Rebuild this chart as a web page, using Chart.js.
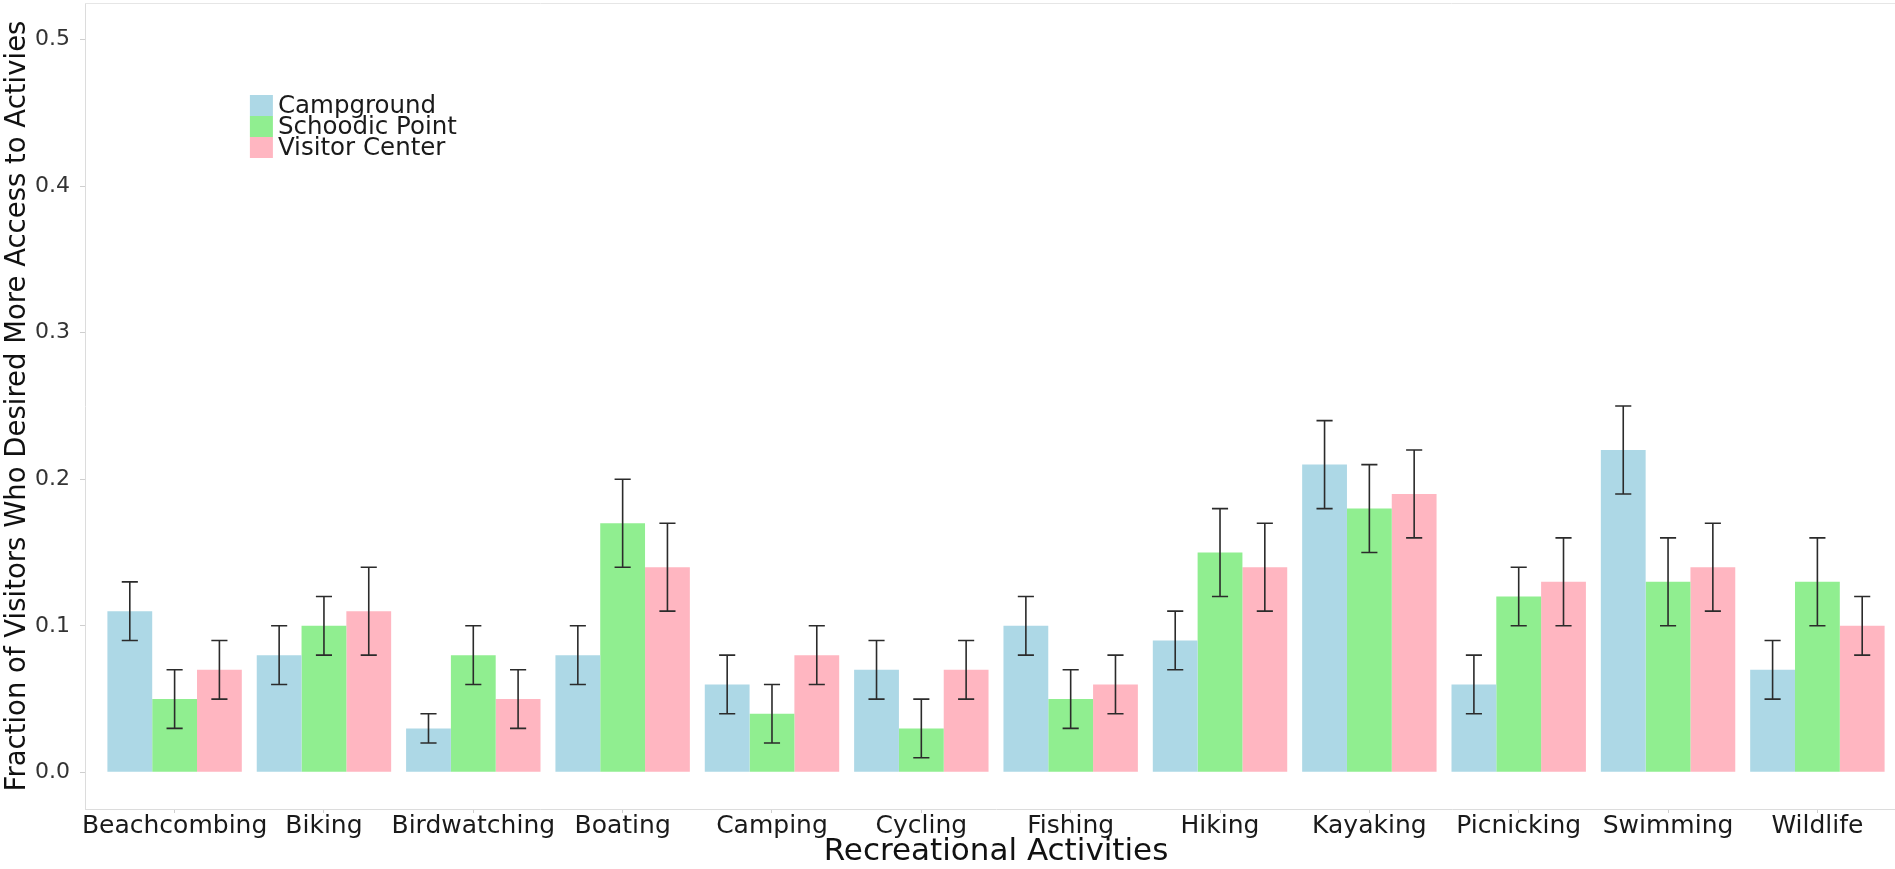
<!DOCTYPE html>
<html>
<head>
<meta charset="utf-8">
<script src="https://cdn.jsdelivr.net/npm/chart.js@4.4.1/dist/chart.umd.min.js"></script>
<style>
html,body{margin:0;padding:0;background:#ffffff;overflow:hidden;}
#wrap{position:relative;width:1907px;height:869px;}
</style>
</head>
<body>
<div id="wrap"><canvas id="c"></canvas></div>
<script>
const categories = ['Beachcombing','Biking','Birdwatching','Boating','Camping','Cycling','Fishing','Hiking','Kayaking','Picnicking','Swimming','Wildlife'];
const seriesNames = ['Campground','Schoodic Point','Visitor Center'];
const seriesColors = ['#ADD8E6','#90EE90','#FFB6C1'];

const campground     = [0.11,0.08,0.03,0.08,0.06,0.07,0.10,0.09,0.21,0.06,0.22,0.07];
const campgroundLow  = [0.09,0.06,0.02,0.06,0.04,0.05,0.08,0.07,0.18,0.04,0.19,0.05];
const campgroundHigh = [0.13,0.10,0.04,0.10,0.08,0.09,0.12,0.11,0.24,0.08,0.25,0.09];

const schoodic     = [0.05,0.10,0.08,0.17,0.04,0.03,0.05,0.15,0.18,0.12,0.13,0.13];
const schoodicLow  = [0.03,0.08,0.06,0.14,0.02,0.01,0.03,0.12,0.15,0.10,0.10,0.10];
const schoodicHigh = [0.07,0.12,0.10,0.20,0.06,0.05,0.07,0.18,0.21,0.14,0.16,0.16];

const visitor     = [0.07,0.11,0.05,0.14,0.08,0.07,0.06,0.14,0.19,0.13,0.14,0.10];
const visitorLow  = [0.05,0.08,0.03,0.11,0.06,0.05,0.04,0.11,0.16,0.10,0.11,0.08];
const visitorHigh = [0.09,0.14,0.07,0.17,0.10,0.09,0.08,0.17,0.22,0.16,0.17,0.12];

const yTicks = [0.0,0.1,0.2,0.3,0.4,0.5];

const xTitle = 'Recreational Activities';
const yTitle = 'Fraction of Visitors Who Desired More Access to Activies';

Chart.defaults.font.family = '"DejaVu Sans", "Liberation Sans", Arial, sans-serif';

function makeDataset(i, values, lows, highs) {
  return {
    label: seriesNames[i],
    data: values.map((v, k) => ({ x: k + 1, y: v })),
    errLow: lows,
    errHigh: highs,
    backgroundColor: seriesColors[i],
    borderWidth: 0,
    categoryPercentage: 0.9,
    barPercentage: 1.0
  };
}

const errorBars = {
  id: 'errorBars',
  afterDatasetsDraw(chart) {
    const ctx = chart.ctx;
    const yS = chart.scales.y;
    ctx.save();
    ctx.strokeStyle = '#2b2b2b';
    ctx.lineWidth = 1.6;
    chart.data.datasets.forEach((ds, i) => {
      const meta = chart.getDatasetMeta(i);
      meta.data.forEach((bar, j) => {
        const x = bar.x;
        const yl = yS.getPixelForValue(ds.errLow[j]);
        const yh = yS.getPixelForValue(ds.errHigh[j]);
        const hw = bar.width * 0.18;
        ctx.beginPath();
        ctx.moveTo(x, yl); ctx.lineTo(x, yh);
        ctx.moveTo(x - hw, yl); ctx.lineTo(x + hw, yl);
        ctx.moveTo(x - hw, yh); ctx.lineTo(x + hw, yh);
        ctx.stroke();
      });
    });
    ctx.restore();
  }
};

const insideLegend = {
  id: 'insideLegend',
  afterDraw(chart) {
    const ctx = chart.ctx;
    const a = chart.chartArea;
    const x0 = a.left + (a.right - a.left) * 0.0905;
    const y0 = a.top + 92;
    const boxW = 23, rowH = 21;
    ctx.save();
    ctx.font = '24.5px "DejaVu Sans", sans-serif';
    ctx.textBaseline = 'alphabetic';
    ctx.textAlign = 'left';
    chart.data.datasets.forEach((ds, i) => {
      ctx.fillStyle = ds.backgroundColor;
      ctx.fillRect(x0, y0 + i * rowH, boxW, rowH);
      ctx.fillStyle = '#1a1a1a';
      ctx.fillText(ds.label, x0 + boxW + 5, y0 + i * rowH + 18);
    });
    ctx.restore();
  }
};

const topBorder = {
  id: 'topBorder',
  afterDraw(chart) {
    const ctx = chart.ctx;
    const a = chart.chartArea;
    ctx.save();
    ctx.strokeStyle = '#e6e6e6';
    ctx.lineWidth = 1;
    ctx.beginPath();
    ctx.moveTo(a.left, a.top + 0.5);
    ctx.lineTo(a.right, a.top + 0.5);
    ctx.stroke();
    ctx.restore();
  }
};

new Chart(document.getElementById('c'), {
  type: 'bar',
  data: {
    datasets: [
      makeDataset(0, campground, campgroundLow, campgroundHigh),
      makeDataset(1, schoodic, schoodicLow, schoodicHigh),
      makeDataset(2, visitor, visitorLow, visitorHigh)
    ]
  },
  options: {
    responsive: true,
    maintainAspectRatio: false,
    animation: false,
    layout: { padding: { top: 3, right: 0, bottom: 0, left: 0 } },
    plugins: {
      legend: { display: false },
      tooltip: { enabled: false },
      title: { display: false }
    },
    scales: {
      x: {
        type: 'linear',
        min: 0.4,
        max: 12.6,
        offset: false,
        afterBuildTicks: s => { s.ticks = categories.map((_, i) => ({ value: i + 1 })); },
        afterFit: s => { s.height = 60; s.paddingLeft = 0; s.paddingRight = 0; },
        ticks: {
          autoSkip: false, maxRotation: 0, minRotation: 0, padding: 1,
          color: '#1a1a1a',
          font: { size: 25, lineHeight: 1 },
          callback: v => categories[Math.round(v) - 1] || ''
        },
        grid: { offset: false, drawOnChartArea: false, drawTicks: true, tickLength: 4, color: '#cfcfcf' },
        border: { display: true, color: '#dcdcdc', dash: [2, 2] },
        title: { display: true, text: xTitle, color: '#111', font: { size: 31, lineHeight: 1 }, padding: { top: 0, bottom: 2 } }
      },
      y: {
        min: -0.025,
        max: 0.525,
        afterBuildTicks: s => { s.ticks = yTicks.map(v => ({ value: v })); },
        afterFit: s => { s.width = 85; s.paddingTop = 0; s.paddingBottom = 0; },
        ticks: {
          padding: 10, color: '#333',
          font: { size: 22 },
          callback: v => Number(v).toFixed(1)
        },
        grid: { drawOnChartArea: false, drawTicks: true, tickLength: 5, color: '#cfcfcf' },
        border: { display: true, color: '#dcdcdc' },
        title: { display: true, text: yTitle, color: '#111', font: { size: 27.5, lineHeight: 1 }, padding: { top: 4, bottom: 0 } }
      }
    }
  },
  plugins: [errorBars, insideLegend, topBorder]
});
</script>
</body>
</html>
